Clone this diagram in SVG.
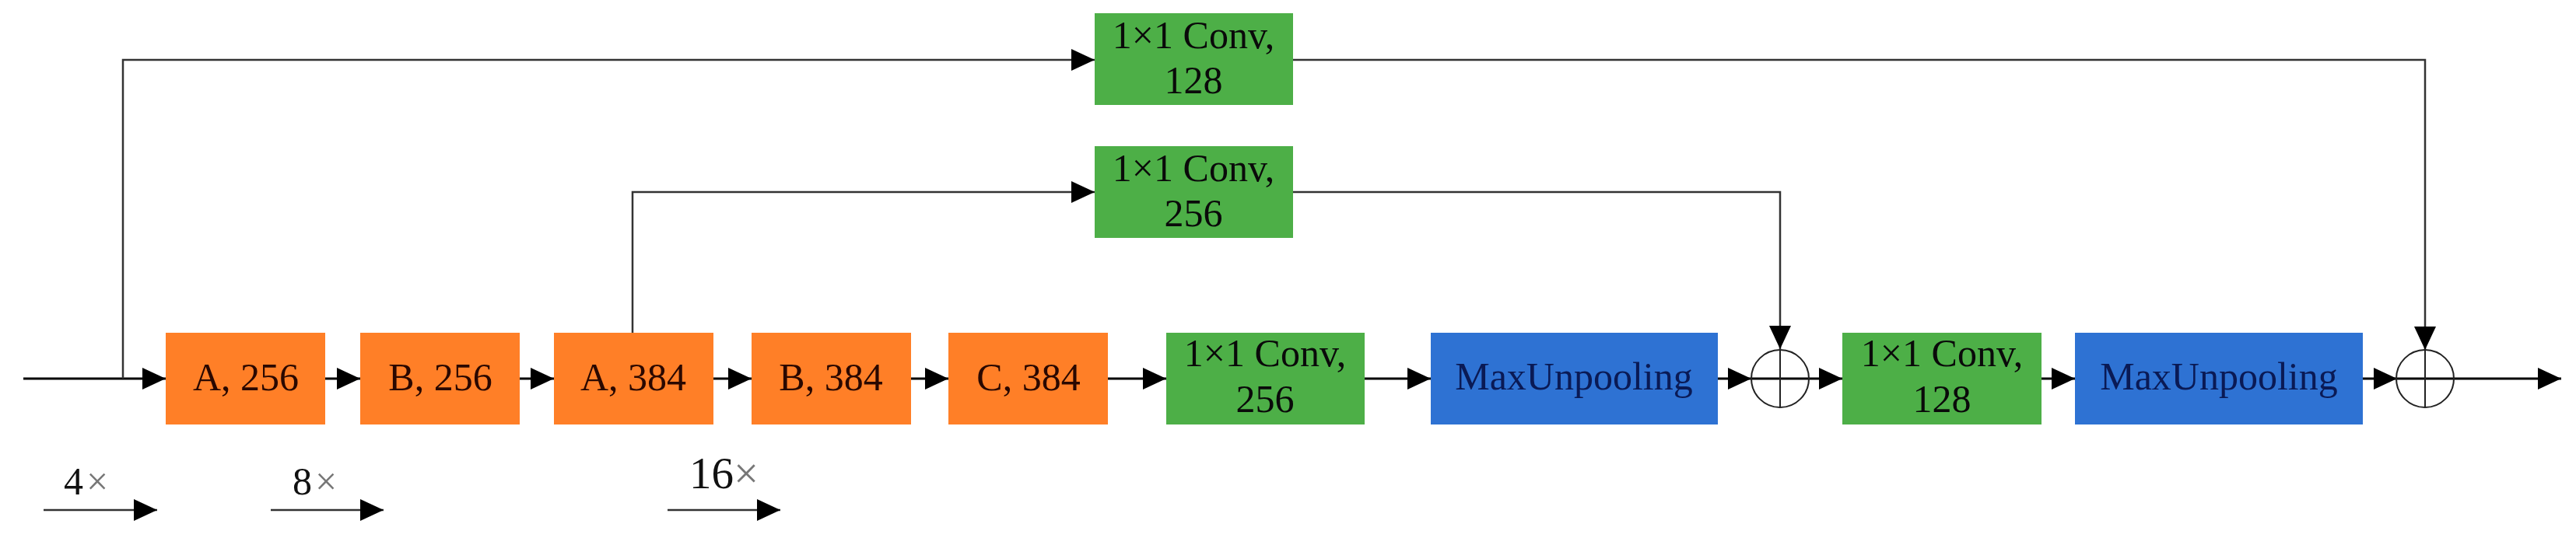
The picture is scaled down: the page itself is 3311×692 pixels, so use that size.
<svg xmlns="http://www.w3.org/2000/svg" width="3311" height="692" viewBox="0 0 3311 692">
<style>
  .t{font-family:"Liberation Serif","Times New Roman",serif;font-size:50px;text-anchor:middle;}
  .lbl{font-family:"Liberation Serif","Times New Roman",serif;font-size:50px;fill:#111;}
  .orange{fill:#FF7F27;}
  .green{fill:#4DAF47;}
  .blue{fill:#2E72D3;}
  .ot{fill:#2a0800;}
  .gt{fill:#0a0a0a;}
  .bt{fill:#0a1a55;}
  .main{stroke:#000;stroke-width:3;fill:none;}
  .thin{stroke:#333;stroke-width:2.5;fill:none;}
  .sum{stroke:#222;stroke-width:2;fill:none;}
  .x{fill:#777;}
</style>
<defs>
  <marker id="ah" markerUnits="userSpaceOnUse" viewBox="0 0 30 28" refX="30" refY="14" markerWidth="30" markerHeight="28" orient="auto">
    <path d="M0,0 L30,14 L0,28 z" fill="#000"/>
  </marker>
</defs>
<rect width="3311" height="692" fill="#fff"/>

<g id="connectors">
  <!-- main line -->
  <line class="main" x1="30" y1="487" x2="213" y2="487" marker-end="url(#ah)"/>
  <line class="main" x1="418" y1="487" x2="463" y2="487" marker-end="url(#ah)"/>
  <line class="main" x1="668" y1="487" x2="712" y2="487" marker-end="url(#ah)"/>
  <line class="main" x1="917" y1="487" x2="966" y2="487" marker-end="url(#ah)"/>
  <line class="main" x1="1171" y1="487" x2="1219" y2="487" marker-end="url(#ah)"/>
  <line class="main" x1="1424" y1="487" x2="1499" y2="487" marker-end="url(#ah)"/>
  <line class="main" x1="1754" y1="487" x2="1839" y2="487" marker-end="url(#ah)"/>
  <line class="main" x1="2208" y1="487" x2="2251" y2="487" marker-end="url(#ah)"/>
  <line class="main" x1="2251" y1="487" x2="2368" y2="487" marker-end="url(#ah)"/>
  <line class="main" x1="2624" y1="487" x2="2667" y2="487" marker-end="url(#ah)"/>
  <line class="main" x1="3037" y1="487" x2="3081" y2="487" marker-end="url(#ah)"/>
  <line class="main" x1="3081" y1="487" x2="3292" y2="487" marker-end="url(#ah)"/>
  <!-- top skip -->
  <polyline class="thin" points="158,487 158,77 1407,77" marker-end="url(#ah)"/>
  <polyline class="thin" points="1662,77 3117,77 3117,450" marker-end="url(#ah)"/>
  <!-- middle skip -->
  <polyline class="thin" points="813,428 813,247 1407,247" marker-end="url(#ah)"/>
  <polyline class="thin" points="1662,247 2288,247 2288,449" marker-end="url(#ah)"/>
  <!-- scale arrows -->
  <line class="thin" x1="56" y1="656" x2="202" y2="656" marker-end="url(#ah)"/>
  <line class="thin" x1="348" y1="656" x2="493" y2="656" marker-end="url(#ah)"/>
  <line class="thin" x1="858" y1="656" x2="1003" y2="656" marker-end="url(#ah)"/>
</g>

<g id="n_a256"><rect class="orange" x="213" y="428" width="205" height="118"/><text class="t ot" x="316" y="502">A, 256</text></g>
<g id="n_b256"><rect class="orange" x="463" y="428" width="205" height="118"/><text class="t ot" x="566" y="502">B, 256</text></g>
<g id="n_a384"><rect class="orange" x="712" y="428" width="205" height="118"/><text class="t ot" x="814" y="502">A, 384</text></g>
<g id="n_b384"><rect class="orange" x="966" y="428" width="205" height="118"/><text class="t ot" x="1068" y="502">B, 384</text></g>
<g id="n_c384"><rect class="orange" x="1219" y="428" width="205" height="118"/><text class="t ot" x="1322" y="502">C, 384</text></g>

<g id="n_conv128_top"><rect class="green" x="1407" y="17" width="255" height="118"/><text class="t gt" x="1534" y="62">1×1 Conv,</text><text class="t gt" x="1534" y="120">128</text></g>
<g id="n_conv256_mid"><rect class="green" x="1407" y="188" width="255" height="118"/><text class="t gt" x="1534" y="233">1×1 Conv,</text><text class="t gt" x="1534" y="291">256</text></g>
<g id="n_conv256"><rect class="green" x="1499" y="428" width="255" height="118"/><text class="t gt" x="1626" y="471">1×1 Conv,</text><text class="t gt" x="1626" y="530">256</text></g>
<g id="n_unpool1"><rect class="blue" x="1839" y="428" width="369" height="118"/><text class="t bt" x="2023" y="501">MaxUnpooling</text></g>
<g id="n_sum1"><circle class="sum" cx="2288" cy="487" r="37"/><line class="sum" x1="2288" y1="450" x2="2288" y2="524"/></g>
<g id="n_conv128"><rect class="green" x="2368" y="428" width="256" height="118"/><text class="t gt" x="2496" y="471">1×1 Conv,</text><text class="t gt" x="2496" y="530">128</text></g>
<g id="n_unpool2"><rect class="blue" x="2667" y="428" width="370" height="118"/><text class="t bt" x="2852" y="501">MaxUnpooling</text></g>
<g id="n_sum2"><circle class="sum" cx="3117" cy="487" r="37"/><line class="sum" x1="3117" y1="450" x2="3117" y2="524"/></g>

<g id="scale_labels">
  <text class="lbl" x="82" y="636">4<tspan class="x" dx="4">×</tspan></text>
  <text class="lbl" x="376" y="636">8<tspan class="x" dx="4">×</tspan></text>
  <text class="lbl" x="886" y="628" style="font-size:57px">16<tspan class="x">×</tspan></text>
</g>
</svg>
